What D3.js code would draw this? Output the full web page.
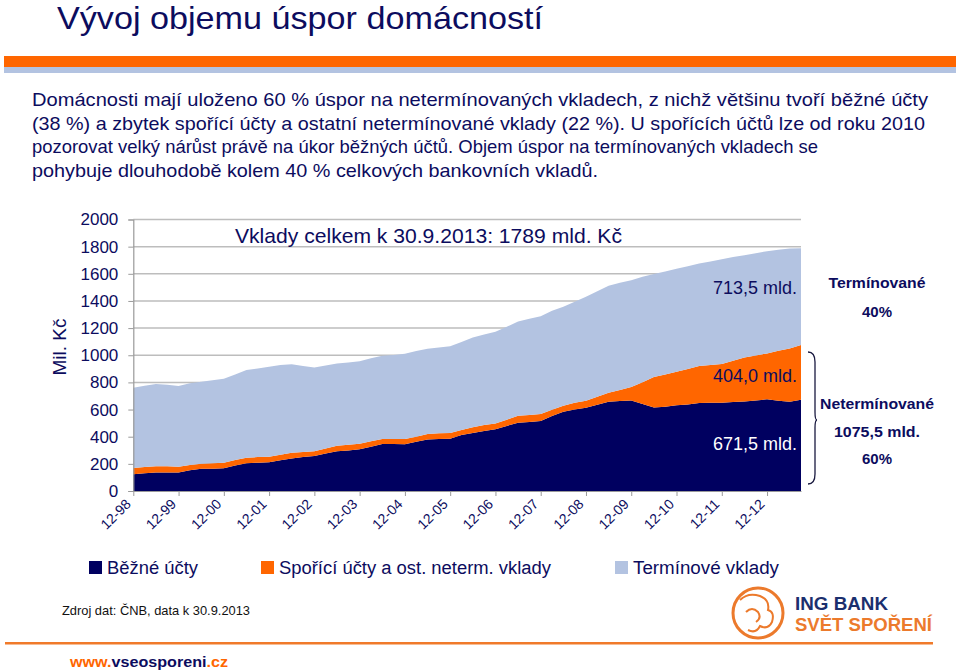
<!DOCTYPE html>
<html>
<head>
<meta charset="utf-8">
<script src="https://cdn.jsdelivr.net/npm/d3@7"></script>
<style>
  html, body { margin: 0; padding: 0; background: #ffffff; }
  svg { display: block; font-family: "Liberation Sans", Arial, sans-serif; }
</style>
</head>
<body>
<svg id="chart" width="960" height="671"></svg>
<script>
// ---------------- DATA ----------------
const categories = ["12-98","3-99","6-99","9-99","12-99","3-00","6-00","9-00","12-00","3-01","6-01","9-01","12-01","3-02","6-02","9-02","12-02","3-03","6-03","9-03","12-03","3-04","6-04","9-04","12-04","3-05","6-05","9-05","12-05","3-06","6-06","9-06","12-06","3-07","6-07","9-07","12-07","3-08","6-08","9-08","12-08","3-09","6-09","9-09","12-09","3-10","6-10","9-10","12-10","3-11","6-11","9-11","12-11","3-12","6-12","9-12","12-12","3-13","6-13","9-13"];
const tickLabels = ["12-98","12-99","12-00","12-01","12-02","12-03","12-04","12-05","12-06","12-07","12-08","12-09","12-10","12-11","12-12"];
const bezneUcty = [123,130,137,137,137,152,164,164,167,187,204,209,211,226,240,250,258,277,292,299,307,326,346,346,344,363,380,383,385,412,428,442,454,479,503,508,515,552,584,601,614,636,658,663,667,640,616,621,631,638,648,650,650,655,660,667,675,665,658,671.5];
const sporiciUcty = [46,47,45,45,42,39,37,40,42,41,41,41,42,41,42,37,34,37,42,42,41,40,37,37,39,37,40,42,42,37,42,44,44,46,52,52,52,47,44,49,51,58,66,81,99,162,223,238,248,260,272,278,285,305,324,332,338,368,392,404.0];
const terminoveVklady = [592,598,606,601,594,602,604,611,618,631,646,653,662,661,651,633,618,611,606,606,607,611,613,618,628,631,628,633,640,648,660,667,675,685,694,709,721,729,729,744,766,778,788,790,787,776,759,758,758,758,756,763,773,763,753,753,754,744,737,713.5];
const yTicks = [0,200,400,600,800,1000,1200,1400,1600,1800,2000];
const seriesNames = ["Běžné účty","Spořící účty a ost. neterm. vklady","Termínové vklady"];
const seriesKeys = ["bezne","sporici","terminove"];
const endLabels = ["671,5 mld.","404,0 mld.","713,5 mld."];

// ---------------- STYLE ----------------
const NAVY = "#0c0c5e";
const AREA_NAVY = "#000060";
const ORANGE = "#ff6600";
const LIGHT = "#b3c3e1";
const colors = [AREA_NAVY, ORANGE, LIGHT];

const svg = d3.select("#chart");

// Header
svg.append("text").attr("x", 57).attr("y", 29).attr("font-size", 32).attr("fill", NAVY)
  .attr("textLength", 486).attr("lengthAdjust", "spacingAndGlyphs")
  .text("Vývoj objemu úspor domácností");
svg.append("rect").attr("x", 4).attr("y", 56).attr("width", 952).attr("height", 11).attr("fill", ORANGE);
svg.append("rect").attr("x", 4).attr("y", 67).attr("width", 952).attr("height", 6).attr("fill", LIGHT);

const bodyLines = [
  ["Domácnosti mají uloženo 60 % úspor na netermínovaných vkladech, z nichž většinu tvoří běžné účty", 896],
  ["(38 %) a zbytek spořící účty a ostatní netermínované vklady (22 %). U spořících účtů lze od roku 2010", 893],
  ["pozorovat velký nárůst právě na úkor běžných účtů. Objem úspor na termínovaných vkladech se", 786],
  ["pohybuje dlouhodobě kolem 40 % celkových bankovních vkladů.", 566]
];
bodyLines.forEach((l, i) => {
  svg.append("text").attr("x", 32).attr("y", 106 + i * 23.7).attr("font-size", 19).attr("fill", NAVY)
    .attr("textLength", l[1]).attr("lengthAdjust", "spacingAndGlyphs").text(l[0]);
});

// ---------------- CHART ----------------
const x = d3.scaleLinear().domain([0, categories.length - 1]).range([133.3, 801]);
const y = d3.scaleLinear().domain([0, 2000]).range([491, 219.5]);

const table = categories.map((c, i) => ({ i, cat: c, bezne: bezneUcty[i], sporici: sporiciUcty[i], terminove: terminoveVklady[i] }));
const stacked = d3.stack().keys(seriesKeys)(table);

// gridlines
svg.append("g").selectAll("line").data(yTicks.filter(d => d > 0)).join("line")
  .attr("x1", x(0)).attr("x2", x(categories.length - 1))
  .attr("y1", d => y(d)).attr("y2", d => y(d))
  .attr("stroke", "#bdbdbd").attr("stroke-width", 1.5);

const area = d3.area().x(d => x(d.data.i)).y0(d => y(d[0])).y1(d => y(d[1]));
svg.append("g").selectAll("path").data(stacked).join("path")
  .attr("d", area).attr("fill", (d, i) => colors[i]);

// y axis
const yAxis = d3.axisLeft(y).tickValues(yTicks).tickSize(5).tickPadding(10).tickFormat(d3.format("d"));
const gy = svg.append("g").attr("transform", `translate(${x(0)},0)`).call(yAxis);
gy.select(".domain").attr("stroke", "#9a9a9a").attr("stroke-width", 1.2);
gy.selectAll(".tick line").attr("stroke", "#9a9a9a");
gy.selectAll(".tick text").attr("font-size", 17).attr("fill", NAVY).attr("font-family", "Liberation Sans, Arial, sans-serif");

// x axis
const tickIdx = categories.map((c, i) => i).filter(i => tickLabels.includes(categories[i]));
const xAxis = d3.axisBottom(x).tickValues(tickIdx).tickSize(5).tickSizeOuter(0).tickFormat(i => categories[i]);
const gx = svg.append("g").attr("transform", `translate(0,${y(0)})`).call(xAxis);
gx.select(".domain").attr("stroke", "#9a9a9a").attr("stroke-width", 1.2);
gx.selectAll(".tick line").attr("stroke", "#9a9a9a");
gx.selectAll(".tick text").attr("font-size", 14).attr("fill", NAVY).attr("font-family", "Liberation Sans, Arial, sans-serif")
  .attr("text-anchor", "end").attr("dy", 0).attr("y", 0)
  .attr("transform", "translate(-2,14) rotate(-45)");

svg.append("text").attr("transform", "translate(66,347) rotate(-90)").attr("text-anchor", "middle")
  .attr("font-size", 19).attr("fill", NAVY).text("Mil. Kč");

svg.append("text").attr("x", 235).attr("y", 243).attr("font-size", 21).attr("fill", NAVY)
  .attr("textLength", 387).attr("lengthAdjust", "spacingAndGlyphs")
  .text("Vklady celkem k 30.9.2013: 1789 mld. Kč");

// end labels
const labelY = [450, 381.5, 294];
const labelFill = ["#ffffff", NAVY, NAVY];
endLabels.forEach((t, k) => {
  svg.append("text").attr("x", 797).attr("y", labelY[k]).attr("text-anchor", "end")
    .attr("font-size", 19).attr("fill", labelFill[k])
    .attr("textLength", 84).attr("lengthAdjust", "spacingAndGlyphs").text(t);
});

// brace
const bTop = 352, bBot = 484, bMid = 420, bx = 808, bw = 7;
svg.append("path")
  .attr("d", `M${bx},${bTop} Q${bx + bw},${bTop} ${bx + bw},${bTop + 10} L${bx + bw},${bMid - 8} Q${bx + bw},${bMid} ${bx + bw + 2},${bMid} Q${bx + bw},${bMid} ${bx + bw},${bMid + 8} L${bx + bw},${bBot - 10} Q${bx + bw},${bBot} ${bx},${bBot}`)
  .attr("fill", "none").attr("stroke", "#1a1a40").attr("stroke-width", 1.3);

const rightLabels = [["Termínované", 288, 97], ["40%", 317, 0], ["Netermínované", 409, 114], ["1075,5 mld.", 437, 86], ["60%", 464, 0]];
rightLabels.forEach(r => {
  const t = svg.append("text").attr("x", 877).attr("y", r[1]).attr("text-anchor", "middle")
    .attr("font-size", 15).attr("font-weight", "bold").attr("fill", NAVY).text(r[0]);
  if (r[2]) t.attr("textLength", r[2]).attr("lengthAdjust", "spacingAndGlyphs");
});

// legend
const legX = [89, 261, 615];
const legW = [91, 272, 146];
seriesNames.forEach((n, k) => {
  svg.append("rect").attr("x", legX[k]).attr("y", 561).attr("width", 13).attr("height", 13).attr("fill", colors[k]);
  svg.append("text").attr("x", legX[k] + 18).attr("y", 574).attr("font-size", 18).attr("fill", NAVY)
    .attr("textLength", legW[k]).attr("lengthAdjust", "spacingAndGlyphs").text(n);
});

// footer
svg.append("text").attr("x", 62).attr("y", 615).attr("font-size", 13).attr("fill", "#111111")
  .attr("textLength", 188).attr("lengthAdjust", "spacingAndGlyphs").text("Zdroj dat: ČNB, data k 30.9.2013");
svg.append("rect").attr("x", 5).attr("y", 642).attr("width", 928).attr("height", 2.5).attr("fill", "#f07a2a");

const url = svg.append("text").attr("x", 70).attr("y", 667).attr("font-size", 15).attr("font-weight", "bold")
  .attr("textLength", 158).attr("lengthAdjust", "spacingAndGlyphs");
url.append("tspan").attr("fill", ORANGE).text("www.");
url.append("tspan").attr("fill", NAVY).text("vseosporeni");
url.append("tspan").attr("fill", ORANGE).text(".cz");

// logo
const logo = svg.append("g");
logo.append("circle").attr("cx", 758).attr("cy", 613).attr("r", 25).attr("fill", "none").attr("stroke", "#ec7a2c").attr("stroke-width", 3);
logo.append("path").attr("d", "M740,600 Q748,592 760,596 Q770,600 768,610 Q775,612 772,622 Q768,630 760,626 Q756,634 748,630 M746,612 Q752,606 758,612 Q762,618 756,622")
  .attr("fill", "none").attr("stroke", "#ec7a2c").attr("stroke-width", 2);
logo.append("text").attr("x", 795).attr("y", 610).attr("font-size", 18).attr("font-weight", "bold").attr("fill", "#1b2f6e")
  .attr("textLength", 93).attr("lengthAdjust", "spacingAndGlyphs").text("ING BANK");
logo.append("text").attr("x", 795).attr("y", 631).attr("font-size", 18).attr("font-weight", "bold").attr("fill", "#ec7a2c")
  .attr("textLength", 137).attr("lengthAdjust", "spacingAndGlyphs").text("SVĚT SPOŘENÍ");
</script>
</body>
</html>
